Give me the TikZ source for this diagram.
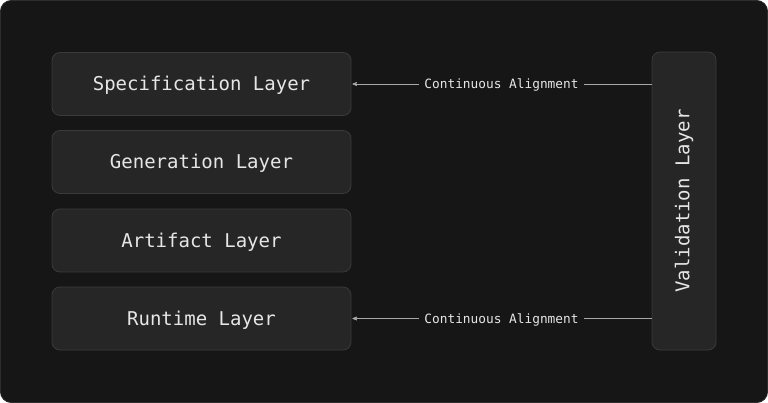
\documentclass[tikz,border=0pt]{standalone}
\usepackage{fontspec}
\newfontfamily\layerfont{DejaVu Sans Mono}
\usetikzlibrary{arrows}

\definecolor{bgdark}{HTML}{161616}
\definecolor{bgedge}{HTML}{2E2E2E}
\definecolor{boxfill}{HTML}{262626}
\definecolor{boxedge}{HTML}{3A3A3A}
\definecolor{textlight}{HTML}{E6E6E6}
\definecolor{linegray}{HTML}{A8A8A8}

\tikzset{
  layer/.style={draw=boxedge, line width=0.8pt, fill=boxfill, rounded corners=8pt,
    minimum width=299pt, minimum height=63pt, text=textlight,
    text height=13.5pt, text depth=0pt,
    font=\layerfont\fontsize{19}{21}\selectfont},
  validbox/.style={draw=boxedge, line width=0.8pt, fill=boxfill, rounded corners=8pt,
    minimum width=64pt, minimum height=298pt, text=textlight,
    font=\layerfont\fontsize{19}{21}\selectfont},
  align label/.style={fill=bgdark, text=textlight, inner xsep=5pt, inner ysep=3pt,
    text height=9pt, text depth=0pt,
    font=\layerfont\fontsize{12.8}{14}\selectfont}
}

\begin{document}
\begin{tikzpicture}[x=1pt, y=-1pt, >=stealth', semithick]
  % background panel
  \useasboundingbox (0,0) rectangle (768,403);
  \fill[white] (0,0) rectangle (768,403);
  \draw[fill=bgdark, draw=bgedge, line width=0.8pt, rounded corners=11pt]
    (0.4,0.4) rectangle (767.6,402.6);

  % stack of layers
  \node[layer] (spec) at (201.5,84) {Specification Layer};
  \node[layer] (gen) at (201.5,162) {Generation Layer};
  \node[layer] (art) at (201.5,240.5) {Artifact Layer};
  \node[layer] (run) at (201.5,318.5) {Runtime Layer};

  % validation column
  \node[validbox] (valid) at (684,201) {\rotatebox{90}{Validation Layer\vphantom{A}}};

  % alignment feedback
  \draw[->, draw=linegray, line width=0.7pt, shorten >=1pt]
    (spec.east -| valid.west) -- node[align label] {Continuous Alignment} (spec.east);
  \draw[->, draw=linegray, line width=0.7pt, shorten >=1pt]
    (run.east -| valid.west) -- node[align label] {Continuous Alignment} (run.east);
\end{tikzpicture}
\end{document}
